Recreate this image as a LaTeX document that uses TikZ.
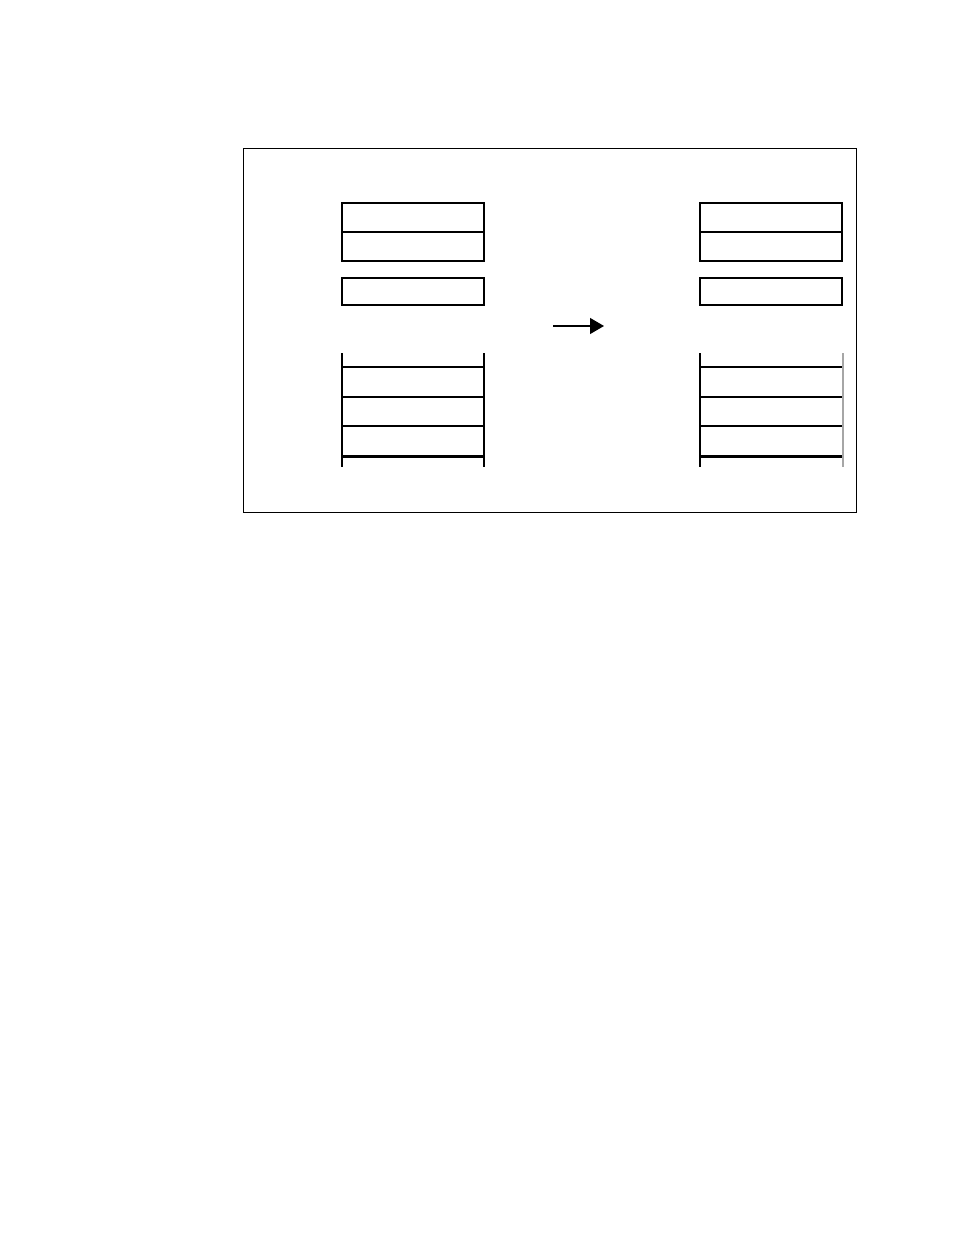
\documentclass[tikz,border=0pt]{standalone}
\usetikzlibrary{arrows.meta}

\begin{document}
\begin{tikzpicture}[x=0.5pt, y=-0.5pt, line width=0.6pt,
    cell/.style={draw, inner sep=0pt, minimum width=71pt, minimum height=14.5pt},
    stackedge/.style={line width=0.6pt},
    thickedge/.style={line width=1.25pt}]
        \useasboundingbox (0,0) rectangle (954,1235);
        \draw[line width=0.5pt] (243,149) rectangle (856,512);

        \foreach \dx/\side in {0/l, 358/r} {
          \begin{scope}[shift={(\dx,0)}]
            \node[cell] (\side top) at (413,217.5) {};
            \node[cell] (\side mid) at (413,246.5) {};
            \node[cell, minimum height=13.5pt] (\side reg) at (413,291.5) {};

            \draw[stackedge] (342,353) -- (342,467);
            \draw[stackedge] (342,367) -- (484,367);
            \draw[thickedge] (342,397) -- (484,397);
            \draw[stackedge] (342,426) -- (484,426);
            \draw[thickedge] (342,456.5) -- (484,456.5);
          \end{scope}
        }
        \draw[stackedge] (484,353) -- (484,467);
        \draw[stackedge, black!35] (843,353) -- (843,467);

        \coordinate (tail) at (553,326);
        \coordinate (head) at (604,326);
        \draw[-{Triangle[length=7pt,width=8pt]}] (tail) -- (head);
      \end{tikzpicture}
\end{document}
